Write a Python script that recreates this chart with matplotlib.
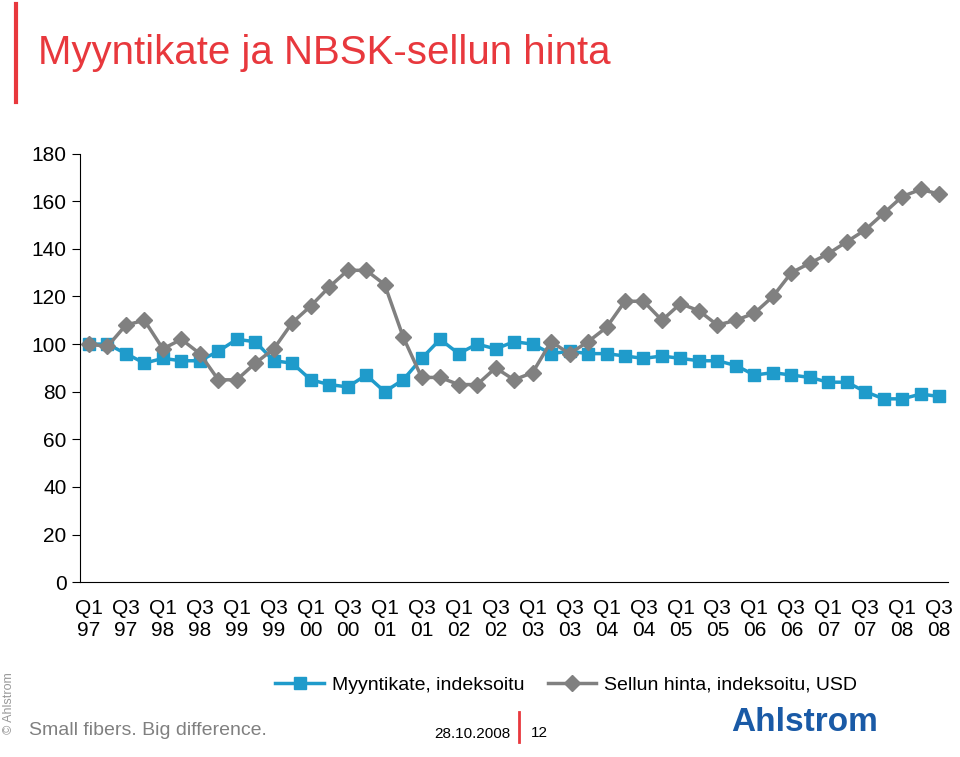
import matplotlib.pyplot as plt

plt.rcParams["font.family"] = "Liberation Sans"

quarters = ["Q1\n97", "Q3\n97", "Q1\n98", "Q3\n98", "Q1\n99", "Q3\n99", "Q1\n00", "Q3\n00",
            "Q1\n01", "Q3\n01", "Q1\n02", "Q3\n02", "Q1\n03", "Q3\n03", "Q1\n04", "Q3\n04",
            "Q1\n05", "Q3\n05", "Q1\n06", "Q3\n06", "Q1\n07", "Q3\n07", "Q1\n08", "Q3\n08"]

myyntikate = [100, 100, 96, 92, 94, 93, 93, 97, 102, 101, 93, 92, 85, 83, 82, 87,
              80, 85, 94, 102, 96, 100, 98, 101, 100, 96, 97, 96, 96, 95, 94, 95,
              94, 93, 93, 91, 87, 88, 87, 86, 84, 84, 80, 77, 77, 79, 78]
sellu = [100, 99, 108, 110, 98, 102, 96, 85, 85, 92, 98, 109, 116, 124, 131, 131,
         125, 103, 86, 86, 83, 83, 90, 85, 88, 101, 96, 101, 107, 118, 118, 110,
         117, 114, 108, 110, 113, 120, 130, 134, 138, 143, 148, 155, 162, 165, 163]

BLUE = "#1f9bcb"
GRAY = "#808080"
RED = "#e8383d"

fig = plt.figure(figsize=(9.6, 7.57), dpi=100)
ax = fig.add_axes([0.083, 0.231, 0.905, 0.566])
x = list(range(len(myyntikate)))
ax.plot(x, myyntikate, color=BLUE, lw=2.5, marker="s", ms=9, label="Myyntikate, indeksoitu")
ax.plot(x, sellu, color=GRAY, lw=2.5, marker="D", ms=8, label="Sellun hinta, indeksoitu, USD")
ax.set_ylim(0, 180)
ax.set_yticks(range(0, 181, 20))
ax.set_xlim(-0.5, len(x) - 0.5)
ax.set_xticks(x[::2])
ax.set_xticklabels(quarters, fontsize=15)
ax.tick_params(axis="y", labelsize=15, direction="out", length=6)
ax.tick_params(axis="x", length=0, pad=12)
for s in ["top", "right"]:
    ax.spines[s].set_visible(False)
ax.spines["left"].set_bounds(0, 180)
ax.legend(loc="center", bbox_to_anchor=(0.56, -0.24), ncol=2, frameon=False,
          fontsize=14, handlelength=2.5, handletextpad=0.4, columnspacing=1.2)

fig.text(0.04, 0.93, "Myyntikate ja NBSK-sellun hinta", color=RED, fontsize=29, va="center")
fig.add_artist(plt.Line2D([0.017, 0.017], [0.865, 0.995], color=RED, lw=3))
fig.text(0.003, 0.03, "© Ahlstrom", rotation=90, fontsize=9, color="#999999", va="bottom")
fig.text(0.03, 0.035, "Small fibers. Big difference.", fontsize=14, color="#808080", va="center")
fig.text(0.452, 0.03, "28.10.2008", fontsize=11, va="center")
fig.add_artist(plt.Line2D([0.541, 0.541], [0.02, 0.06], color=RED, lw=2))
fig.text(0.553, 0.032, "12", fontsize=11, va="center")
fig.text(0.762, 0.045, "Ahlstrom", fontsize=24, color="#1a5aa6", weight="bold", va="center")

fig.savefig("out.png", dpi=100)
